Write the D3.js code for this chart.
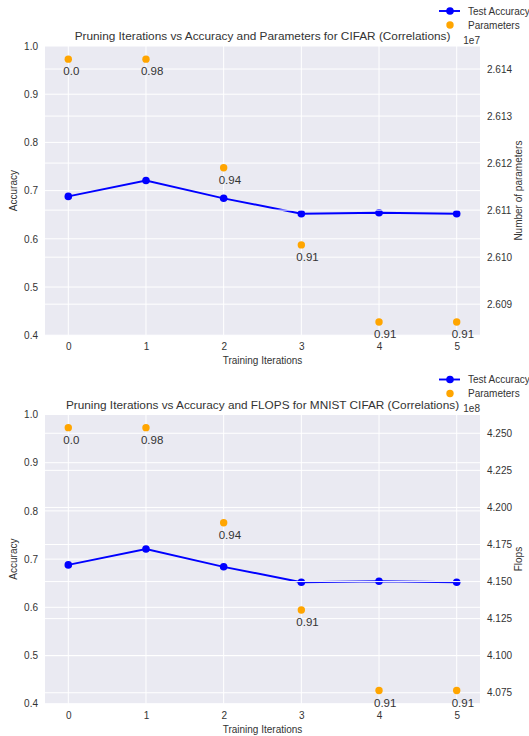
<!DOCTYPE html>
<html><head><meta charset="utf-8">
<script src="https://cdn.jsdelivr.net/npm/d3@7"></script>
<style>body{margin:0;background:#fff}svg{display:block}text{font-family:"Liberation Sans",Arial,sans-serif}</style>
</head><body>
<svg id="c" width="529" height="736"></svg>
<script>
const iterations = [0, 1, 2, 3, 4, 5];
const accuracy = [0.688, 0.721, 0.684, 0.652, 0.654, 0.652];
const parameters = [2.61421e7, 2.61421e7, 2.6119e7, 2.61026e7, 2.60862e7, 2.60862e7];
const flops = [4.2538e8, 4.2538e8, 4.1897e8, 4.1308e8, 4.0765e8, 4.0765e8];
const pointLabels = ["0.0", "0.98", "0.94", "0.91", "0.91", "0.91"];
const accTicks = [0.4, 0.5, 0.6, 0.7, 0.8, 0.9, 1.0];
const paramTicks = [2.609, 2.610, 2.611, 2.612, 2.613, 2.614];
const flopTicks = [4.075, 4.100, 4.125, 4.150, 4.175, 4.200, 4.225, 4.250];

const charts = [
  {title: "Pruning Iterations vs Accuracy and Parameters for CIFAR (Correlations)",
   right: parameters, scale: 1e7, offset: "1e7", ticks: paramTicks, rlabel: "Number of parameters", top: 46},
  {title: "Pruning Iterations vs Accuracy and FLOPS for MNIST CIFAR (Correlations)",
   right: flops, scale: 1e8, offset: "1e8", ticks: flopTicks, rlabel: "Flops", top: 414.5}
];

const svg = d3.select("#c");
const L = 45, R = 480, H = 289.2;
const tc = "#333";

charts.forEach(ch => {
  const T = ch.top, B = T + H;
  const g = svg.append("g");
  const x = d3.scaleLinear().domain([-0.3, 5.3]).range([L, R]);
  const y = d3.scaleLinear().domain([0.4, 1.0]).range([B, T]);
  const rv = ch.right.map(v => v / ch.scale);
  const [lo, hi] = d3.extent(rv);
  const pad = (hi - lo) * 0.05;
  const y2 = d3.scaleLinear().domain([lo - pad, hi + pad]).range([B, T]);

  g.append("rect").attr("x", L).attr("y", T).attr("width", R - L).attr("height", H).attr("fill", "#EAEAF2");

  // left grid
  g.append("g").selectAll("line").data(accTicks).join("line")
    .attr("x1", L).attr("x2", R).attr("y1", d => y(d)).attr("y2", d => y(d))
    .attr("stroke", "#fff").attr("stroke-width", 1);
  g.append("g").selectAll("line").data(iterations).join("line")
    .attr("y1", T).attr("y2", B).attr("x1", d => x(d)).attr("x2", d => x(d))
    .attr("stroke", "#fff").attr("stroke-width", 1);

  // blue line
  const line = d3.line().x((d, i) => x(iterations[i])).y(d => y(d));
  g.append("path").datum(accuracy).attr("d", line).attr("fill", "none")
    .attr("stroke", "#0000ff").attr("stroke-width", 1.9);
  g.append("g").selectAll("circle").data(accuracy).join("circle")
    .attr("cx", (d, i) => x(iterations[i])).attr("cy", d => y(d)).attr("r", 3.8).attr("fill", "#0000ff");

  // right grid (over line)
  g.append("g").selectAll("line").data(ch.ticks).join("line")
    .attr("x1", L).attr("x2", R).attr("y1", d => y2(d)).attr("y2", d => y2(d))
    .attr("stroke", "#fff").attr("stroke-width", 1);

  // orange points
  g.append("g").selectAll("circle").data(rv).join("circle")
    .attr("cx", (d, i) => x(iterations[i])).attr("cy", d => y2(d)).attr("r", 3.7).attr("fill", "#FFA500");
  g.append("g").selectAll("text").data(rv).join("text")
    .attr("x", (d, i) => x(iterations[i]) - 5).attr("y", d => y2(d) + 16)
    .attr("font-size", 11.5).attr("fill", tc).text((d, i) => pointLabels[i]);

  // axes
  const ax = d3.axisBottom(x).tickValues(iterations).tickSize(0).tickPadding(8).tickFormat(d3.format("d"));
  const axg = g.append("g").attr("transform", `translate(0,${B})`).call(ax);
  const ay = d3.axisLeft(y).tickValues(accTicks).tickSize(0).tickPadding(7).tickFormat(d3.format(".1f"));
  const ayg = g.append("g").attr("transform", `translate(${L},0)`).call(ay);
  const ay2 = d3.axisRight(y2).tickValues(ch.ticks).tickSize(0).tickPadding(7).tickFormat(d3.format(".3f"));
  const ay2g = g.append("g").attr("transform", `translate(${R},0)`).call(ay2);
  [axg, ayg, ay2g].forEach(a => {
    a.select(".domain").remove();
    a.selectAll("text").attr("font-size", 10).attr("fill", tc).style("font-family", '"Liberation Sans",Arial,sans-serif');
  });

  // labels
  g.append("text").attr("x", (L + R) / 2).attr("y", T - 6).attr("text-anchor", "middle")
    .attr("font-size", 11.8).attr("fill", tc).text(ch.title);
  g.append("text").attr("x", R).attr("y", T - 2.5).attr("text-anchor", "end")
    .attr("font-size", 10).attr("fill", tc).text(ch.offset);
  g.append("text").attr("x", (L + R) / 2).attr("y", B + 29).attr("text-anchor", "middle")
    .attr("font-size", 10).attr("fill", tc).text("Training Iterations");
  g.append("text").attr("transform", `translate(17,${(T + B) / 2}) rotate(-90)`).attr("text-anchor", "middle")
    .attr("font-size", 10).attr("fill", tc).text("Accuracy");
  g.append("text").attr("transform", `translate(522,${(T + B) / 2}) rotate(-90)`).attr("text-anchor", "middle")
    .attr("font-size", 10).attr("fill", tc).text(ch.rlabel);

  // legend
  const ly1 = T - 35, ly2 = T - 21;
  g.append("line").attr("x1", 439).attr("x2", 460).attr("y1", ly1).attr("y2", ly1)
    .attr("stroke", "#0000ff").attr("stroke-width", 1.9);
  g.append("circle").attr("cx", 450).attr("cy", ly1).attr("r", 3.8).attr("fill", "#0000ff");
  g.append("text").attr("x", 468).attr("y", ly1 + 3.5).attr("font-size", 10).attr("fill", tc).text("Test Accuracy");
  g.append("circle").attr("cx", 450).attr("cy", ly2).attr("r", 3.7).attr("fill", "#FFA500");
  g.append("text").attr("x", 468).attr("y", ly2 + 3.5).attr("font-size", 10).attr("fill", tc).text("Parameters");
});
</script>
</body></html>
